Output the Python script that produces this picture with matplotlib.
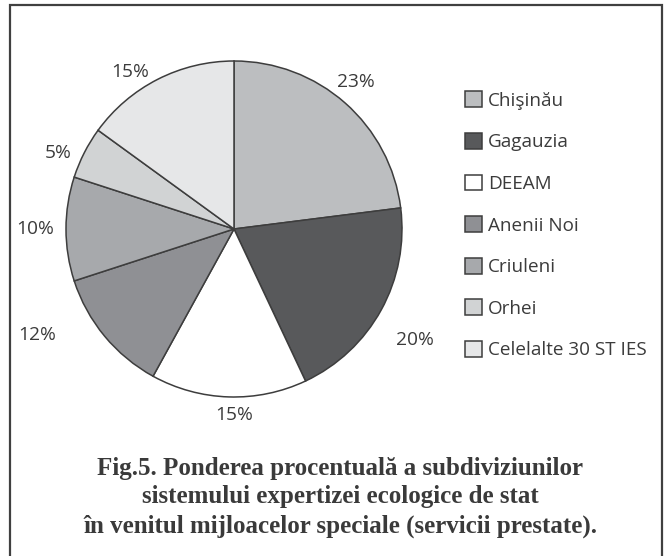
import matplotlib
matplotlib.use("Agg")
import matplotlib.pyplot as plt
import numpy as np
from matplotlib.patches import Rectangle

categories = ["Chişinău", "Gagauzia", "DEEAM", "Anenii Noi", "Criuleni", "Orhei", "Celelalte 30 ST IES"]
values = [23, 20, 15, 12, 10, 5, 15]
pct_labels = ["23%", "20%", "15%", "12%", "10%", "5%", "15%"]
colors = ["#bcbec0", "#58595b", "#ffffff", "#8f9094", "#a7a9ac", "#d1d3d4", "#e6e7e8"]
caption = ["Fig.5. Ponderea procentuală a subdiviziunilor",
           "sistemului expertizei ecologice de stat",
           "în venitul mijloacelor speciale (servicii prestate)."]

# label placement tweaks (angle offset in degrees, distance in radii)
label_angle_offset = [1.7, -2.7, 1.8, -11.3, 0.0, 3.6, 6.5]
label_dist = [1.137, 1.264, 1.107, 1.33, 1.185, 1.14, 1.12]

W, H = 667, 556
fig = plt.figure(figsize=(W / 100, H / 100), dpi=100)
fig.patch.set_facecolor("white")

txt = "#3b3b3b"
edge = "#3d3d3d"

cx, cy, r = 234, 229, 168
ax = fig.add_axes([(cx - r) / W, 1 - (cy + r) / H, 2 * r / W, 2 * r / H])
wedges, texts = ax.pie(values, colors=colors, startangle=90, counterclock=False,
                       labels=pct_labels, labeldistance=1.14,
                       wedgeprops=dict(edgecolor=edge, linewidth=1.1),
                       textprops=dict(fontsize=13.8, color=txt, family="Open Sans"))
for w, t, da, d in zip(wedges, texts, label_angle_offset, label_dist):
    mid = np.deg2rad((w.theta1 + w.theta2) / 2 + da)
    t.set_position((d * np.cos(mid), d * np.sin(mid)))
    t.set_ha("center")
    t.set_va("center")
ax.set_xlim(-1, 1)
ax.set_ylim(-1, 1)
ax.set_aspect("equal")
ax.axis("off")

fs = 13.6
leg = ax.legend(wedges, categories, loc="upper left",
                bbox_to_anchor=(465 / W, 1 - 91.5 / H), bbox_transform=fig.transFigure,
                frameon=False, handlelength=0.9, handleheight=0.9,
                handletextpad=0.33, labelspacing=1.23, borderaxespad=0, borderpad=0,
                prop=dict(family="Open Sans", size=fs))
for t in leg.get_texts():
    t.set_color(txt)
for h in leg.legend_handles:
    h.set_linewidth(1.1)
    h.set_edgecolor(edge)

fig.patches.append(Rectangle((10 / W, -0.05), (662 - 10) / W, 1.05 - 5 / H,
                             transform=fig.transFigure, fill=False,
                             edgecolor="#404040", linewidth=1.6))

ys = [468, 497, 526]
for line, y in zip(caption, ys):
    fig.text(340 / W, 1 - y / H, line, ha="center", va="center",
             fontsize=18, fontweight="bold", family="Liberation Serif", color="#3a3a3a")

fig.savefig("out.png", dpi=100, facecolor="white")
